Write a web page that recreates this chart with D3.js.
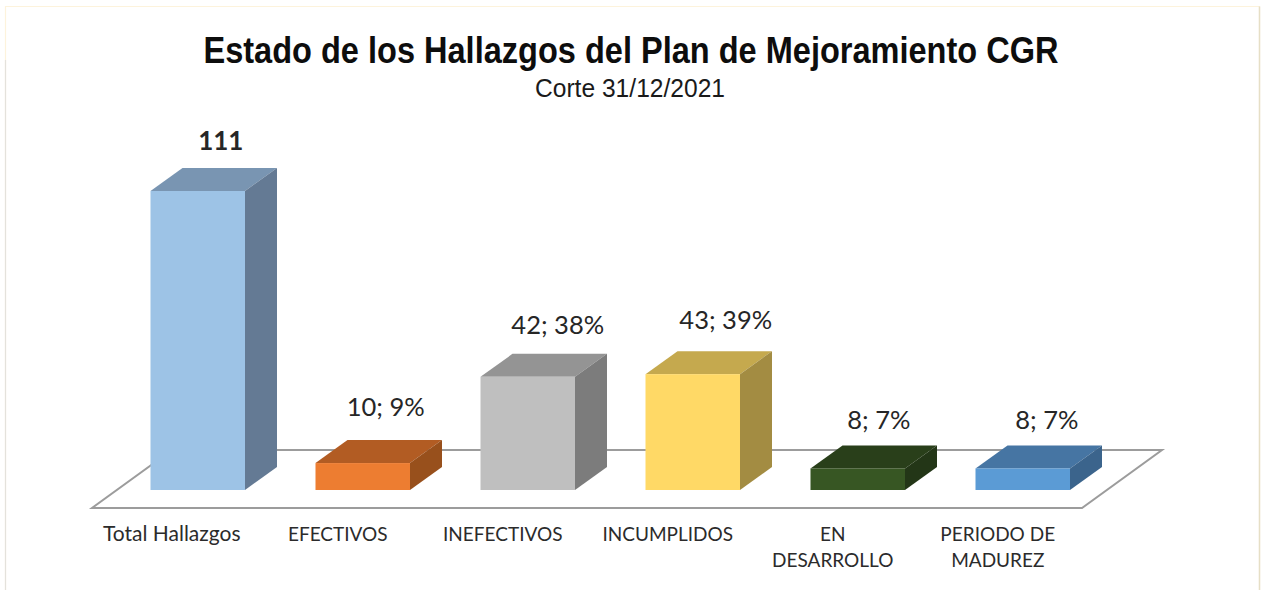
<!DOCTYPE html>
<html><head><meta charset="utf-8">
<script src="https://cdn.jsdelivr.net/npm/d3@7"></script>
<style>html,body{margin:0;padding:0;background:#fff;overflow:hidden}svg{display:block}</style>
</head><body><svg id="c" width="1261" height="590"></svg>
<script>
const categories = ["Total Hallazgos","EFECTIVOS","INEFECTIVOS","INCUMPLIDOS","EN DESARROLLO","PERIODO DE MADUREZ"];
const categoryLines = [["Total Hallazgos"],["EFECTIVOS"],["INEFECTIVOS"],["INCUMPLIDOS"],["EN","DESARROLLO"],["PERIODO DE","MADUREZ"]];
const values = [111,10,42,43,8,8];
const valueLabels = ["111","10; 9%","42; 38%","43; 39%","8; 7%","8; 7%"];
const frontColors = ["#9dc3e6","#ed7d31","#bfbfbf","#ffd966","#375623","#5b9bd5"];
const topColors = ["#7995b2","#b25c23","#949494","#c5a94e","#293f1a","#4675a3"];
const sideColors = ["#647a94","#98501c","#7c7c7c","#a38c42","#233617","#3b648c"];
const titleText = "Estado de los Hallazgos del Plan de Mejoramiento CGR";
const subtitleText = "Corte 31/12/2021";

const svg = d3.select("#c");
const depthX = 32, depthY = 23;
const labelDx = [23,23,30,33,21,24];
const labelDy = [18,24,20,22,16,16];
const x = d3.scaleBand().domain(categories).range([150.5,150.5+165*6-70.5]).paddingInner(70.5/165).paddingOuter(0).align(0);
const y = d3.scaleLinear().domain([0,111]).range([490,191]);

// frame
svg.append("path").attr("d","M5.5,590V6.5H1259.5V590").attr("fill","none").attr("stroke","#fdf3dc").attr("stroke-width",1.2);
svg.append("path").attr("d","M5.5,590V60").attr("fill","none").attr("stroke","#e4e2dc").attr("stroke-width",1.2);
svg.append("path").attr("d","M1259.5,590V6.5").attr("fill","none").attr("stroke","#e6dfc6").attr("stroke-width",1.5);

// floor
const floorFront = y(0)+18, floorBack = floorFront-58;
svg.append("path")
  .attr("d",d3.line()([[92,floorFront],[1082,floorFront],[1162,floorBack],[172,floorBack]])+"Z")
  .attr("fill","#fff").attr("stroke","#9c9c9c").attr("stroke-width",2);

// bars
const bars = svg.selectAll("g.bar").data(categories).join("g").attr("class","bar");
bars.each(function(c,i){
  const g = d3.select(this), l = x(c), r = l+x.bandwidth(), t = y(values[i]), b = y(0);
  g.append("polygon").attr("points",[[l,t],[r,t],[r+depthX,t-depthY],[l+depthX,t-depthY]].join(" ")).attr("fill",topColors[i]);
  g.append("polygon").attr("points",[[r,t],[r+depthX,t-depthY],[r+depthX,b-depthY],[r,b]].join(" ")).attr("fill",sideColors[i]);
  g.append("rect").attr("x",l).attr("y",t).attr("width",x.bandwidth()).attr("height",b-t).attr("fill",frontColors[i]);
  g.append("text").attr("x",l+x.bandwidth()/2+labelDx[i]).attr("y",t-depthY-labelDy[i])
    .attr("text-anchor","middle").attr("font-family","Lato, 'Open Sans', sans-serif").attr("font-size",i==0?26:25.5)
    .attr("font-weight",i==0?"700":"400").attr("fill","#262626").text(valueLabels[i]);
  const lab = g.append("text").attr("text-anchor","middle").attr("font-family","Lato, 'Open Sans', sans-serif").attr("font-size",i==0?21:19).attr("fill","#2b2b2b");
  categoryLines[i].forEach((s,k)=>lab.append("tspan").attr("x",l+x.bandwidth()/2-(i==0?26:25)).attr("y",y(0)+51+k*26).text(s));
});

// titles
svg.append("text").attr("x",631).attr("y",63).attr("text-anchor","middle")
  .attr("font-family","'Liberation Sans', Arial, sans-serif").attr("font-weight","700").attr("font-size",36).attr("textLength",855).attr("lengthAdjust","spacingAndGlyphs").attr("fill","#0d0d0d").text(titleText);
svg.append("text").attr("x",630).attr("y",97).attr("text-anchor","middle")
  .attr("font-family","'Liberation Sans', Arial, sans-serif").attr("font-size",25).attr("textLength",190).attr("lengthAdjust","spacingAndGlyphs").attr("fill","#1a1a1a").text(subtitleText);
</script></body></html>
